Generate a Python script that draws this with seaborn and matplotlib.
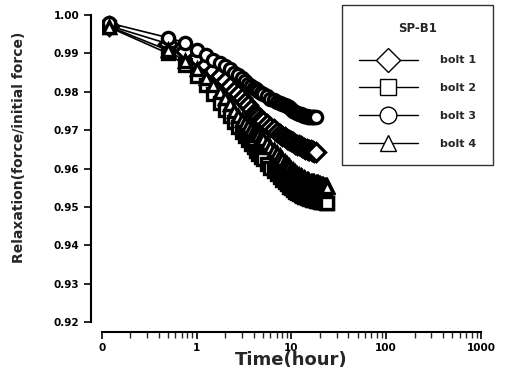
import matplotlib
matplotlib.use("Agg")
import matplotlib.pyplot as plt
from matplotlib.lines import Line2D
from matplotlib.ticker import LogLocator, NullFormatter
import numpy as np
import pandas as pd
import seaborn as sns

# Elapsed time (hours) of each reading
time_short = [0.12, 0.5, 0.75, 1.0, 1.25, 1.5, 1.75, 2.0, 2.25, 2.5, 2.75, 3.0,
              3.25, 3.5, 3.75, 4.0, 4.25, 4.5, 4.75, 5.0,
              5.5, 6.0, 6.5, 7.0, 7.5, 8.0, 8.5, 9.0, 9.5, 10.0,
              10.5, 11.0, 11.5, 12.0, 12.5, 13.0, 13.5, 14.0, 14.5, 15.0,
              15.5, 16.0, 16.5, 17.0, 17.5, 18.0]
time_long = time_short + [18.5, 19.0, 19.5, 20.0, 20.5, 21.0, 21.5, 22.0,
                          22.5, 23.0, 23.5, 24.0]

# Relaxation = force / initial force
bolt1 = [0.9972, 0.9925, 0.9905, 0.9888, 0.9870, 0.9855, 0.9840, 0.9827, 0.9815,
         0.9803, 0.9793, 0.9783, 0.9774, 0.9765, 0.9755, 0.9745, 0.9739, 0.9733,
         0.9728, 0.9723, 0.9715, 0.9708, 0.9702, 0.9696, 0.9691, 0.9686, 0.9682,
         0.9678, 0.9674, 0.9671, 0.9668, 0.9665, 0.9662, 0.9660, 0.9658, 0.9656,
         0.9654, 0.9652, 0.9650, 0.9649, 0.9648, 0.9647, 0.9646, 0.9645, 0.9644,
         0.9644]
bolt2 = [0.9968, 0.9900, 0.9870, 0.9842, 0.9818, 0.9795, 0.9772, 0.9752, 0.9737,
         0.9722, 0.9708, 0.9696, 0.9685, 0.9675, 0.9665, 0.9655, 0.9646, 0.9638,
         0.9631, 0.9624, 0.9612, 0.9602, 0.9594, 0.9586, 0.9578, 0.9571, 0.9565,
         0.9559, 0.9553, 0.9548, 0.9544, 0.9540, 0.9537, 0.9534, 0.9531, 0.9529,
         0.9527, 0.9525, 0.9523, 0.9522, 0.9521, 0.9520, 0.9519, 0.9518, 0.9517,
         0.9516, 0.9516, 0.9515, 0.9515, 0.9514, 0.9514, 0.9513, 0.9513, 0.9512,
         0.9512, 0.9511, 0.9511, 0.9511]
bolt3 = [0.9979, 0.9941, 0.9928, 0.9910, 0.9897, 0.9884, 0.9876, 0.9866, 0.9858,
         0.9850, 0.9843, 0.9835, 0.9828, 0.9821, 0.9816, 0.9811, 0.9806, 0.9802,
         0.9798, 0.9795, 0.9788, 0.9782, 0.9778, 0.9774, 0.9771, 0.9769, 0.9766,
         0.9762, 0.9759, 0.9755, 0.9751, 0.9748, 0.9745, 0.9743, 0.9741, 0.9739,
         0.9738, 0.9737, 0.9736, 0.9735, 0.9735, 0.9734, 0.9734, 0.9734, 0.9734,
         0.9734]
bolt4 = [0.9970, 0.9908, 0.9880, 0.9858, 0.9837, 0.9818, 0.9800, 0.9783, 0.9767,
         0.9750, 0.9737, 0.9726, 0.9718, 0.9710, 0.9704, 0.9699, 0.9693, 0.9687,
         0.9681, 0.9676, 0.9666, 0.9657, 0.9648, 0.9640, 0.9632, 0.9625, 0.9618,
         0.9612, 0.9606, 0.9600, 0.9595, 0.9590, 0.9586, 0.9583, 0.9580, 0.9577,
         0.9575, 0.9573, 0.9571, 0.9569, 0.9567, 0.9566, 0.9565, 0.9565, 0.9564,
         0.9563, 0.9562, 0.9561, 0.9560, 0.9559, 0.9558, 0.9557, 0.9556, 0.9555,
         0.9555, 0.9554, 0.9554, 0.9553]

bolt_names = ["bolt 1", "bolt 2", "bolt 3", "bolt 4"]
bolt_markers = ["D", "s", "o", "^"]
legend_title = "SP-B1"

x_ticks = [0.1, 1, 10, 100, 1000]
x_tick_labels = ["0", "1", "10", "100", "1000"]
y_ticks = [0.92, 0.93, 0.94, 0.95, 0.96, 0.97, 0.98, 0.99, 1.00]

frames = []
for name, t, v in zip(bolt_names, [time_short, time_long, time_short, time_long],
                      [bolt1, bolt2, bolt3, bolt4]):
    frames.append(pd.DataFrame({"time": t, "relax": v, "bolt": name}))
df = pd.concat(frames, ignore_index=True)

sns.set_style("ticks")
plt.rcParams["font.family"] = ["DejaVu Sans"]
plt.rcParams["font.weight"] = "bold"

fig = plt.figure(figsize=(5.05, 3.79), dpi=100)
ax = fig.add_axes([0.2014, 0.1504, 0.7511, 0.81])

sns.lineplot(data=df, x="time", y="relax", hue="bolt", style="bolt",
             palette=["black"] * 4, markers=dict(zip(bolt_names, bolt_markers)),
             dashes=False, legend=False, ax=ax, linewidth=1.2,
             markersize=8.8, markerfacecolor="white", markeredgecolor="black",
             markeredgewidth=2.4)

ax.set_xscale("log")
ax.set_xlim(0.1, 1000)
ax.set_ylim(0.92, 1.00)
ax.set_xticks(x_ticks)
ax.set_xticklabels(x_tick_labels)
ax.xaxis.set_minor_locator(LogLocator(base=10, subs=np.arange(2, 10)))
ax.xaxis.set_minor_formatter(NullFormatter())
ax.set_yticks(y_ticks)
ax.set_yticklabels([f"{v:.2f}" for v in y_ticks])

ax.tick_params(axis="both", which="major", direction="out", length=5, width=1.2,
               labelsize=7.5, colors="black", pad=3)
ax.tick_params(axis="x", which="minor", direction="out", length=4, width=1.0)
for lab in ax.get_xticklabels() + ax.get_yticklabels():
    lab.set_fontweight("bold")

ax.set_xlabel("Time(hour)", fontsize=13, fontweight="bold", labelpad=-1)
ax.set_ylabel("Relaxation(force/initial force)", fontsize=10, fontweight="bold")
ax.yaxis.set_label_coords(-0.20, 0.57)

sns.despine(ax=ax, offset={"left": 8, "bottom": 7})
for side in ("left", "bottom"):
    ax.spines[side].set_linewidth(1.5)
    ax.spines[side].set_color("black")

handles = [Line2D([], [], color="black", linewidth=1.0, marker=m, markersize=12,
                  markerfacecolor="white", markeredgecolor="black",
                  markeredgewidth=1.0) for m in bolt_markers]
leg = ax.legend(handles, bolt_names, title=legend_title, loc="upper left",
                bbox_to_anchor=(342 / 505, 1 - 5 / 379),
                bbox_transform=fig.transFigure, borderaxespad=0,
                frameon=True, fancybox=False, edgecolor="black",
                prop={"weight": "bold", "size": 8},
                title_fontproperties={"weight": "bold", "size": 8.5},
                handlelength=5.3, handletextpad=2.0, labelspacing=1.6,
                borderpad=1.5)
leg.get_frame().set_linewidth(1.0)
leg._legend_box.sep = 15

fig.savefig("out.png", dpi=100)
